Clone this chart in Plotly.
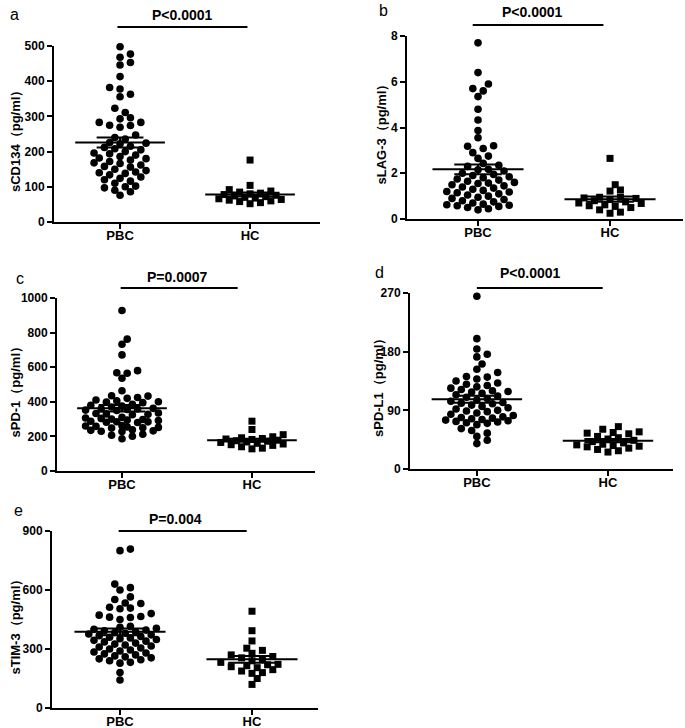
import numpy as np
import plotly.graph_objects as go

W, H = 685, 728

groups = ["PBC", "HC"]

# ---- data ----
a_pbc = [498, 477, 468, 453, 446, 413, 382, 378, 363, 356, 323, 311, 296, 293, 283,
         283, 275, 274, 269, 247, 240, 236, 226, 224, 222, 215, 212, 208, 205, 200,
         196, 194, 190, 186, 182, 180, 176, 172, 168, 166, 162, 158, 156, 150, 146,
         142, 140, 138, 134, 128, 124, 120, 116, 110, 102, 100, 97, 90, 86, 76]
a_hc = [176, 104, 92, 88, 85, 82, 80, 78, 76, 74, 72, 70, 68, 66, 64, 62, 60, 58, 55, 52]

b_pbc = [7.7, 6.4, 5.9, 5.7, 5.6, 5.35, 4.8, 4.33, 3.87, 3.55, 3.2, 3.18, 3.08, 2.9, 2.75,
         2.65, 2.43, 2.35, 2.3, 2.17, 2.15, 2.1, 2.0, 1.95, 1.9, 1.85, 1.8, 1.75, 1.7, 1.65,
         1.6, 1.57, 1.55, 1.5, 1.45, 1.4, 1.35, 1.3, 1.25, 1.2, 1.18, 1.15, 1.1, 1.05, 1.0,
         0.95, 0.9, 0.85, 0.8, 0.75, 0.7, 0.65, 0.62, 0.6, 0.58, 0.55, 0.5, 0.45, 0.4]
b_hc = [2.65, 1.5, 1.27, 1.22, 0.95, 0.95, 0.92, 0.9, 0.85, 0.8, 0.75, 0.7, 0.68, 0.62,
        0.58, 0.55, 0.5, 0.4, 0.3, 0.25]

c_pbc = [928, 762, 733, 671, 580, 568, 565, 536, 464,
         435, 433, 425, 420, 410, 406, 400, 398, 395,
         385, 380, 375, 370, 362, 360, 358, 356, 352, 350,
         335, 332, 330, 328, 325, 310, 306, 304, 300, 298, 295, 292,
         288, 285, 284, 282, 280, 262, 260, 258, 255, 252, 250, 248,
         238, 235, 232, 230, 228, 212, 207, 201, 186]
c_hc = [288, 240, 210, 198, 192, 188, 185, 182, 178, 175, 172, 168, 165, 160, 156,
        152, 148, 140, 132, 128]

d_pbc = [265, 200, 184, 176, 172, 161, 153, 148, 142, 141, 138, 135, 132, 130, 128,
         126, 124, 122, 120, 119, 118, 116, 114, 112, 110, 108, 106, 104, 102, 101,
         100, 98, 96, 94, 92, 90, 89, 88, 86, 84, 82, 80, 79, 78, 77,
         76, 75, 74, 73, 72, 71, 70, 68, 62, 59, 55, 50, 44, 39]
d_hc = [65, 61, 57, 56, 55, 54, 50, 48, 46, 44, 42, 40, 38, 37, 36, 35, 34, 32, 30, 28, 26]

e_pbc = [808, 800, 630, 612, 600, 565, 552, 534, 531, 512, 508, 505, 480, 472, 465,
         462, 460, 450, 415, 410, 405, 400, 396, 392, 388, 384, 380, 376, 372, 368,
         364, 360, 356, 352, 348, 344, 340, 336, 330, 325, 320, 315, 310, 305, 300,
         295, 290, 285, 280, 275, 270, 265, 260, 255, 250, 245, 240, 232, 228, 180, 142]
e_hc = [492, 393, 341, 304, 293, 278, 270, 262, 255, 248, 240, 232, 222, 220, 215,
        210, 205, 195, 188, 180, 176, 150, 120]

a_ticks = [0, 100, 200, 300, 400, 500]
b_ticks = [0, 2, 4, 6, 8]
c_ticks = [0, 200, 400, 600, 800, 1000]
d_ticks = [0, 90, 180, 270]
e_ticks = [0, 300, 600, 900]

titles = ["sCD134（pg/ml）", "sLAG-3（pg/ml）", "sPD-1（pg/ml）", "sPD-L1（pg/ml）", "sTIM-3（pg/ml）"]
pvals = ["P<0.0001", "P<0.0001", "P=0.0007", "P<0.0001", "P=0.004"]
letters = ["a", "b", "c", "d", "e"]

# ---- layout (pixel boxes of each plotting area) ----
panels = [
    dict(data=(a_pbc, a_hc), ticks=a_ticks, box=(54, 320, 46, 222), xr=(-0.508, 1.538),
         br=(-0.02, 0.98, 27), pt=(182, 15), lp=(8, 14), tx=15),
    dict(data=(b_pbc, b_hc), ticks=b_ticks, box=(407, 683, 36, 219), xr=(-0.538, 1.553),
         br=(-0.04, 0.95, 25), pt=(532, 12), lp=(377, 11), tx=381),
    dict(data=(c_pbc, c_hc), ticks=c_ticks, box=(57, 315, 298, 471), xr=(-0.5, 1.485),
         br=(-0.01, 0.89, 288), pt=(177, 277), lp=(14, 278), tx=15),
    dict(data=(d_pbc, d_hc), ticks=d_ticks, box=(410, 673, 293, 469), xr=(-0.51, 1.496),
         br=(0.0, 0.96, 288), pt=(530, 273), lp=(373, 272), tx=378),
    dict(data=(e_pbc, e_hc), ticks=e_ticks, box=(52, 318, 531, 708), xr=(-0.515, 1.5),
         br=(-0.01, 0.96, 531), pt=(175, 519), lp=(12, 511), tx=15),
]

FONT = "Liberation Sans, Arial, sans-serif"


def px(x):
    return x / W


def py(y):
    return 1 - y / H


def swarm(vals, ypu, xpu, cmax, col_px=5.2, min_d=7.0):
    """Deterministic beeswarm on a half-column grid (pixel space), width-capped."""
    vals = np.asarray(vals, float)
    order = np.argsort(vals)
    placed = []
    offs = np.zeros(len(vals))
    cands = [0]
    for j in range(1, cmax + 1):
        cands += [j, -j]
    for i in order:
        y = vals[i] * ypu
        best_c, best_d = 0, -1.0
        for c in cands:
            dmin = 1e9
            for pc, pyy in placed:
                dx = (c - pc) * col_px
                dy = y - pyy
                dmin = min(dmin, (dx * dx + dy * dy) ** 0.5)
            if dmin >= min_d:
                best_c = c
                break
            if dmin > best_d + 0.5:
                best_c, best_d = c, dmin
        placed.append((best_c, y))
        offs[i] = best_c * col_px / xpu
    return offs


fig = go.Figure()
annotations = []
shapes = []
layout = {}

for k, p in enumerate(panels):
    n = "" if k == 0 else str(k + 1)
    xa, ya = "x" + n, "y" + n
    x0, x1, y0, y1 = p["box"]
    ymax = p["ticks"][-1]
    ypu = (y1 - y0) / ymax
    xpu = (x1 - x0) / (p["xr"][1] - p["xr"][0])
    seg_x, seg_y = [], []
    for g, (vals, sym, size, cmax) in enumerate(zip(p["data"], ["circle", "square"], [7.6, 7], [7, 6])):
        offs = swarm(vals, ypu, xpu, cmax)
        fig.add_trace(go.Scatter(
            x=g + offs, y=vals, mode="markers", xaxis=xa, yaxis=ya,
            marker=dict(symbol=sym, size=size, color="black", line=dict(width=0)),
            cliponaxis=False, showlegend=False, hoverinfo="y"))
        arr = np.asarray(vals, float)
        m = arr.mean()
        s = arr.std(ddof=1) / np.sqrt(len(arr))
        hw, cw = 0.345, 0.18
        seg_x += [g - hw, g + hw, None, g - cw, g + cw, None, g - cw, g + cw, None, g, g, None]
        seg_y += [m, m, None, m + s, m + s, None, m - s, m - s, None, m - s, m + s, None]
    fig.add_trace(go.Scatter(x=seg_x, y=seg_y, mode="lines", xaxis=xa, yaxis=ya,
                             line=dict(color="black", width=2), cliponaxis=False,
                             showlegend=False, hoverinfo="skip"))

    layout["xaxis" + n] = dict(
        domain=[px(x0), px(x1)], anchor=ya, range=list(p["xr"]), automargin=False,
        tickmode="array", tickvals=[0, 1], ticktext=groups,
        ticks="outside", ticklen=5, tickwidth=2, tickcolor="black", ticklabelstandoff=-5,
        showline=True, linewidth=2, linecolor="black", showgrid=False, zeroline=False,
        tickfont=dict(family=FONT, size=13, color="black", weight="bold"))
    layout["yaxis" + n] = dict(
        domain=[py(y1), py(y0)], anchor=xa, range=[0, ymax], automargin=False,
        tickmode="array", tickvals=p["ticks"],
        ticks="outside", ticklen=5, tickwidth=2, tickcolor="black",
        showline=True, linewidth=2, linecolor="black", showgrid=False, zeroline=False,
        tickfont=dict(family=FONT, size=12, color="black", weight="bold"))

    annotations.append(dict(
        text=titles[k], x=px(p["tx"]), y=py((y0 + y1) / 2 + 4), xref="paper", yref="paper",
        textangle=-90, showarrow=False, xanchor="center", yanchor="middle",
        font=dict(family=FONT, size=13, color="black", weight="bold")))
    annotations.append(dict(
        text=pvals[k], x=px(p["pt"][0]), y=py(p["pt"][1]), xref="paper", yref="paper",
        showarrow=False, xanchor="center", yanchor="middle",
        font=dict(family=FONT, size=14, color="black", weight="bold")))
    annotations.append(dict(
        text=letters[k], x=px(p["lp"][0]), y=py(p["lp"][1]), xref="paper", yref="paper",
        showarrow=False, xanchor="left", yanchor="middle",
        font=dict(family=FONT, size=16, color="black")))
    bx0, bx1, by = p["br"]
    shapes.append(dict(type="line", xref=xa, yref="paper", x0=bx0, x1=bx1,
                       y0=py(by), y1=py(by), line=dict(color="black", width=2)))

fig.update_layout(
    template="none",
    width=W, height=H, margin=dict(l=0, r=0, t=0, b=0, autoexpand=False),
    paper_bgcolor="white", plot_bgcolor="white", showlegend=False,
    font=dict(family=FONT, color="black"),
    annotations=annotations, shapes=shapes, **layout)

fig.write_html("out.html", config={"displayModeBar": False},
               post_script="document.body.style.margin='0';document.body.style.overflow='hidden';")
